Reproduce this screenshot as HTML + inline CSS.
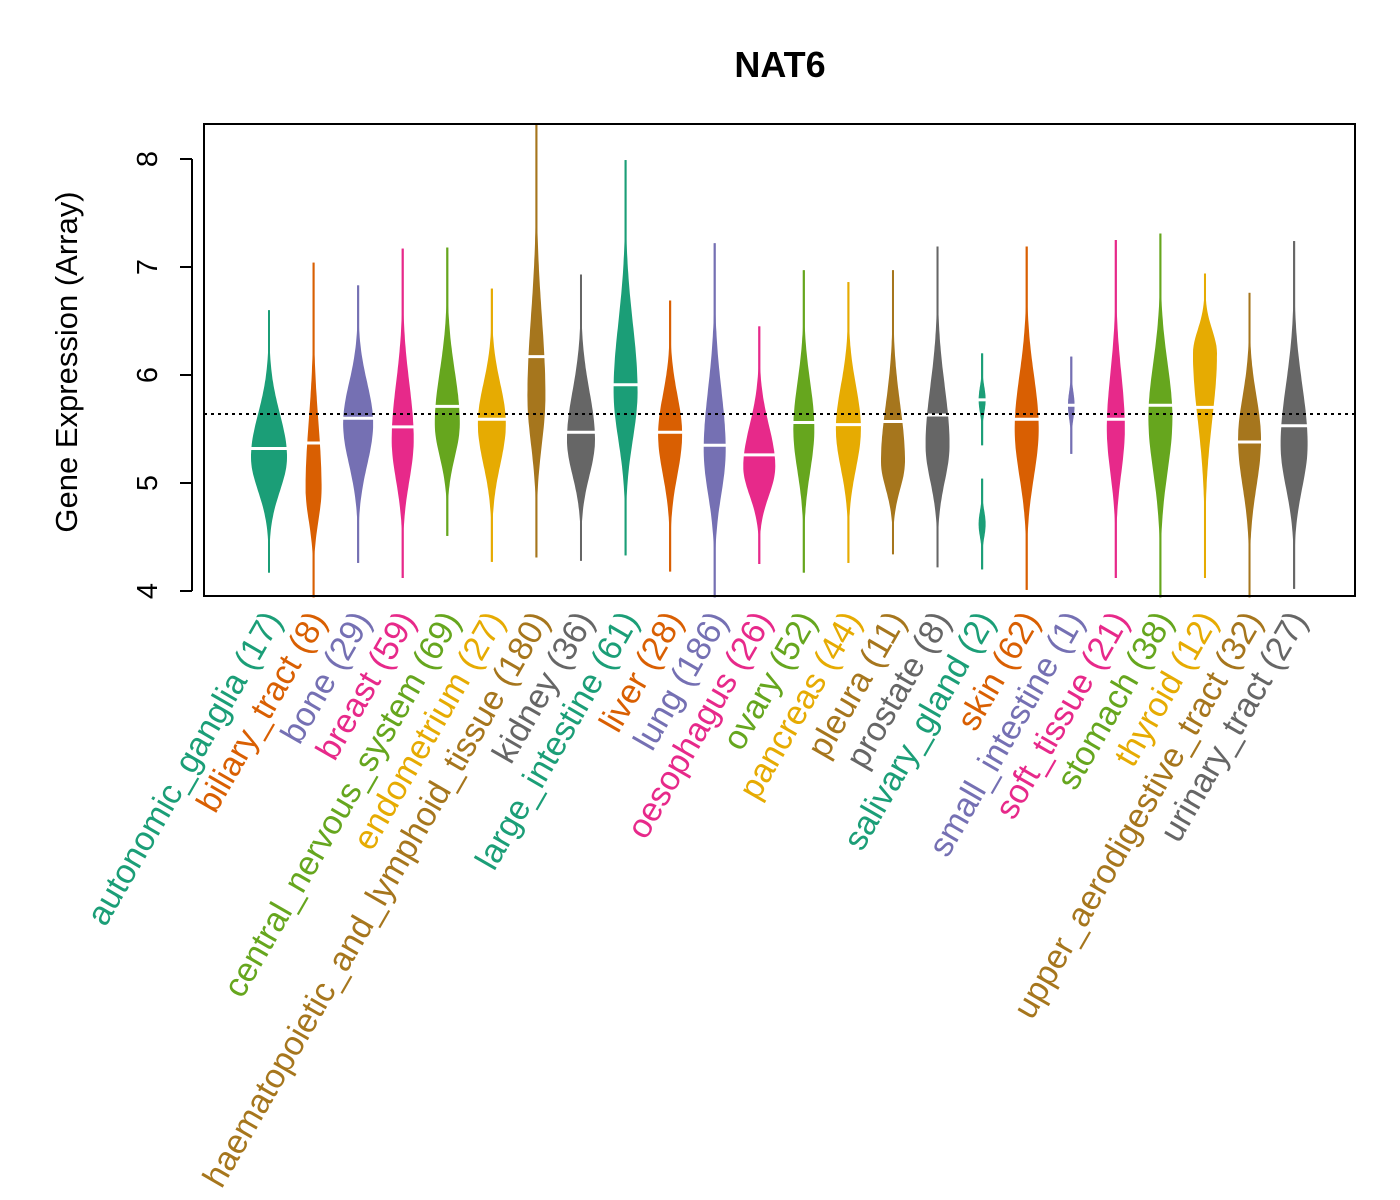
<!DOCTYPE html>
<html><head><meta charset="utf-8"><title>NAT6</title>
<style>html,body{margin:0;padding:0;background:#fff}svg{display:block}text{font-family:"Liberation Sans",Arial,sans-serif}</style>
</head><body>
<svg id="chart" width="1400" height="1200" viewBox="0 0 1400 1200">
<rect width="1400" height="1200" fill="#fff"/>
<text x="780" y="77" font-size="36" font-weight="bold" text-anchor="middle">NAT6</text>
<text transform="translate(77,362) rotate(-90)" font-size="31" text-anchor="middle">Gene Expression (Array)</text>
<g id="violins"></g>
<g id="yaxis"></g>
<g id="xlabels"></g>
<line x1="204" x2="1355" y1="414" y2="414" stroke="#000" stroke-width="2" stroke-dasharray="3,4"/>
<rect x="204" y="124" width="1151" height="472" fill="none" stroke="#000" stroke-width="2"/>
</svg>
<script>
const categories = ["autonomic_ganglia","biliary_tract","bone","breast","central_nervous_system","endometrium","haematopoietic_and_lymphoid_tissue","kidney","large_intestine","liver","lung","oesophagus","ovary","pancreas","pleura","prostate","salivary_gland","skin","small_intestine","soft_tissue","stomach","thyroid","upper_aerodigestive_tract","urinary_tract"];
const counts = [17,8,29,59,69,27,180,36,61,28,186,26,52,44,11,8,2,62,1,21,38,12,32,27];
const minVals = [4.17,3.94,4.26,4.12,4.51,4.27,4.31,4.28,4.33,4.18,3.94,4.25,4.17,4.26,4.34,4.22,4.2,4.01,5.27,4.12,3.94,4.12,3.94,4.02];
const maxVals = [6.60,7.04,6.83,7.17,7.18,6.80,8.32,6.93,7.99,6.69,7.22,6.45,6.97,6.86,6.97,7.19,6.2,7.19,6.17,7.25,7.31,6.94,6.76,7.24];
const medians = [5.32,5.37,5.60,5.52,5.71,5.59,6.17,5.47,5.91,5.47,5.35,5.26,5.56,5.54,5.57,5.63,5.77,5.59,5.72,5.59,5.72,5.70,5.38,5.53];
const peaks = [5.24,4.95,5.55,5.40,5.55,5.55,5.80,5.40,5.85,5.45,5.30,5.15,5.50,5.50,5.20,5.35,5.77,5.50,5.72,5.50,5.60,6.20,5.40,5.35];
const densities = [18,8,15,11,12.5,14,9,14,12,12,11,16,10.5,12.5,12,12,3.5,12,3.3,9,12,12,11.5,13.5];
const secondPeak = [null,null,null,null,null,null,null,null,null,null,null,null,null,null,null,null,4.62,null,null,null,null,null,null,null];
const yTicks = [4,5,6,7,8];
const refValue = 5.64;
const colors = ["#1B9E77","#D95F02","#7570B3","#E7298A","#66A61E","#E6AB02","#A6761D","#666666"];

const NS = "http://www.w3.org/2000/svg";
function yScale(v){ return 591 - (v-4)*108; }
function xScale(i){ return 269 + i*44.57; }
function mk(tag, attrs, parent){ const e=document.createElementNS(NS,tag); for(const k in attrs) e.setAttribute(k,attrs[k]); parent.appendChild(e); return e; }

const vg = document.getElementById('violins');
function violinPath(cx, lo, hi, pk, w){
  const sl = Math.max((pk-lo)/2.4, 0.04), sh = Math.max((hi-pk)/2.4, 0.04);
  const pts = [];
  const n = 80;
  for(let k=0;k<=n;k++){
    const v = lo + (hi-lo)*k/n;
    const s = v<pk ? sl : sh;
    const hw = Math.max(w*Math.exp(-Math.pow((v-pk)/s,2)), 1);
    pts.push([cx+hw, yScale(v)]);
  }
  let d = "M"+pts.map(p=>p[0].toFixed(1)+","+p[1].toFixed(1)).join(" L");
  for(let k=pts.length-1;k>=0;k--){ d += " L"+(2*cx-pts[k][0]).toFixed(1)+","+pts[k][1].toFixed(1); }
  return d+"Z";
}
categories.forEach((c,i)=>{
  const cx = xScale(i), col = colors[i%8];
  const g = mk('g',{},vg);
  
  
  if(secondPeak[i]===null){
    mk('line',{x1:cx,x2:cx,y1:yScale(minVals[i]),y2:yScale(maxVals[i]),stroke:col,'stroke-width':2},g);
    mk('path',{d:violinPath(cx,minVals[i],maxVals[i],peaks[i],densities[i]),fill:col},g);
  } else {
    const lo2 = secondPeak[i]-0.42, hi2 = secondPeak[i]+0.42;
    const lo1 = peaks[i]-0.42, hi1 = maxVals[i];
    mk('line',{x1:cx,x2:cx,y1:yScale(lo1),y2:yScale(hi1),stroke:col,'stroke-width':2},g);
    mk('line',{x1:cx,x2:cx,y1:yScale(minVals[i]),y2:yScale(hi2),stroke:col,'stroke-width':2},g);
    mk('path',{d:violinPath(cx,lo1,hi1,peaks[i],densities[i]),fill:col},g);
    mk('path',{d:violinPath(cx,minVals[i],hi2,secondPeak[i],densities[i]),fill:col},g);
  }
  const m = mk('line',{x1:cx-densities[i]-3,x2:cx+densities[i]+3,y1:yScale(medians[i]),y2:yScale(medians[i]),stroke:'#fff','stroke-width':3},g);
  
  
});

const ya = document.getElementById('yaxis');
mk('line',{x1:192,x2:192,y1:yScale(yTicks[0]),y2:yScale(yTicks[yTicks.length-1]),stroke:'#000','stroke-width':2},ya);
yTicks.forEach(t=>{
  mk('line',{x1:180,x2:192,y1:yScale(t),y2:yScale(t),stroke:'#000','stroke-width':2},ya);
  const tx = mk('text',{transform:`translate(157,${yScale(t)}) rotate(-90)`,'font-size':29,'text-anchor':'middle'},ya);
  
  
  tx.textContent = t;
});

const xl = document.getElementById('xlabels');
categories.forEach((c,i)=>{
  const t = mk('text',{transform:`translate(${xScale(i)+14},620) rotate(-60)`,'font-size':34,'text-anchor':'end',fill:colors[i%8]},xl);
  
  
  t.textContent = c+" ("+counts[i]+")";
});
</script>
</body></html>
